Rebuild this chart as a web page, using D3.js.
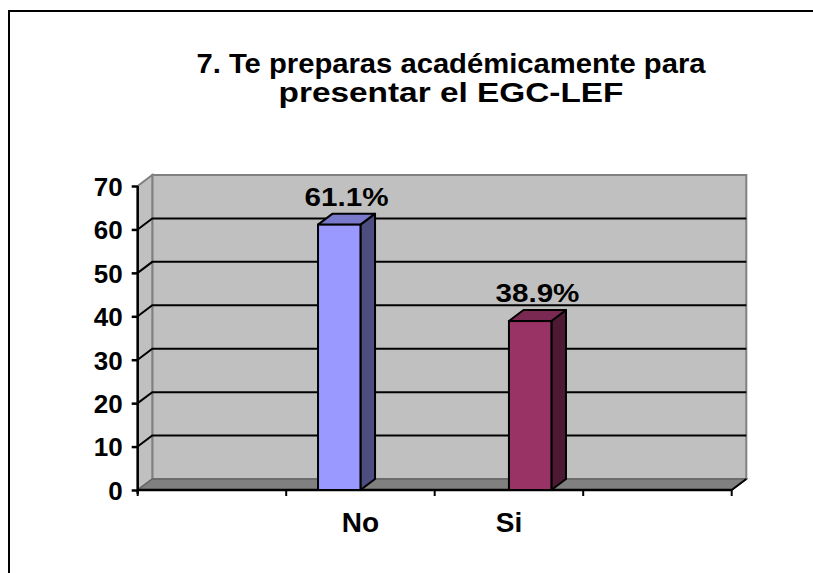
<!DOCTYPE html>
<html>
<head>
<meta charset="utf-8">
<script src="https://cdn.jsdelivr.net/npm/d3@7"></script>
<style>
  body { margin: 0; background: #fff; }
  svg { display: block; font-family: "Liberation Sans", Arial, sans-serif; font-weight: bold; }
</style>
</head>
<body>
<svg width="813" height="573"></svg>
<script>
const titleLines = ["7. Te preparas académicamente para", "presentar el EGC-LEF"];
const categories = ["", "No", "Si", ""];
const seriesNames = ["No", "Si"];
const seriesValues = [
    [null, 61.1, null, null],
    [null, null, 38.9, null]
];
const seriesColors = [
    { front: "#9999ff", top: "#7a7acc", side: "#4d4d80" },
    { front: "#993366", top: "#7a2952", side: "#4d1a33" }
];
const yTicks = [0, 10, 20, 30, 40, 50, 60, 70];

const svg = d3.select("svg"),
    width = +svg.attr("width"),
    height = +svg.attr("height");

// frame round the chart area (runs off the right and bottom)
svg.append("rect")
    .attr("x", 9).attr("y", 11)
    .attr("width", 900).attr("height", 700)
    .attr("fill", "none").attr("stroke", "#000").attr("stroke-width", 2);

// title
const titleWidths = [509, 345];
svg.append("g").selectAll("text")
    .data(titleLines)
    .enter().append("text")
    .attr("x", 451)
    .attr("y", (d, i) => 73 + i * 29)
    .attr("text-anchor", "middle")
    .attr("font-size", 28)
    .attr("textLength", (d, i) => titleWidths[i])
    .attr("lengthAdjust", "spacingAndGlyphs")
    .attr("fill", "#000")
    .text(d => d);

// plot geometry
const plotLeft = 137.7, plotRight = 731.7, plotBottom = 490, plotTop = 186;
const dx = 14.6, dy = 11;   // depth offset of the back wall

const y = d3.scaleLinear().domain([0, 70]).range([plotBottom, plotTop]);
const x = d3.scaleBand().domain(d3.range(categories.length)).range([plotLeft, plotRight]);
const xs = d3.scaleBand().domain(seriesNames).range([0, x.bandwidth()])
    .paddingInner(0).paddingOuter(0.75);

// back wall
svg.append("rect")
    .attr("x", plotLeft + dx).attr("y", y(70) - dy)
    .attr("width", plotRight - plotLeft).attr("height", y(0) - y(70))
    .attr("fill", "#c0c0c0").attr("stroke", "#808080").attr("stroke-width", 2);

// left side wall
svg.append("path")
    .attr("d", `M${plotLeft},${y(0)} L${plotLeft},${y(70)} L${plotLeft + dx},${y(70) - dy} L${plotLeft + dx},${y(0) - dy} Z`)
    .attr("fill", "#c0c0c0").attr("stroke", "#808080").attr("stroke-width", 2);

// floor
svg.append("path")
    .attr("d", `M${plotLeft},${y(0)} L${plotRight},${y(0)} L${plotRight + dx},${y(0) - dy} L${plotLeft + dx},${y(0) - dy} Z`)
    .attr("fill", "#808080").attr("stroke", "#666").attr("stroke-width", 1.5);
svg.append("line")
    .attr("x1", plotRight).attr("y1", y(0)).attr("x2", plotRight + dx).attr("y2", y(0) - dy)
    .attr("stroke", "#000").attr("stroke-width", 2);

// gridlines on back wall and side wall
const grid = yTicks.filter(v => v > 0 && v < 70);
svg.append("g").selectAll("path")
    .data(grid)
    .enter().append("path")
    .attr("d", v => `M${plotLeft},${y(v)} L${plotLeft + dx},${y(v) - dy} L${plotRight + dx},${y(v) - dy}`)
    .attr("fill", "none").attr("stroke", "#000").attr("stroke-width", 2);

// y axis
const yAxis = svg.append("g")
    .attr("transform", `translate(${plotLeft},0)`)
    .call(d3.axisLeft(y).tickValues(yTicks).tickSize(6).tickPadding(9));
yAxis.select(".domain").attr("stroke-width", 2.5).attr("d", `M0,${y(70)}V${y(0) + 4}`);
yAxis.selectAll(".tick line").attr("stroke-width", 2.5);
yAxis.selectAll(".tick text")
    .attr("font-size", 26).attr("font-family", "Liberation Sans, Arial, sans-serif")
    .attr("font-weight", "bold").attr("dy", "0.36em").attr("fill", "#000");

// x axis
const xAxis = svg.append("g")
    .attr("transform", `translate(0,${plotBottom})`);
xAxis.append("line")
    .attr("x1", plotLeft).attr("x2", plotRight)
    .attr("stroke", "#000").attr("stroke-width", 2.5);
xAxis.selectAll("line.tk")
    .data(d3.range(categories.length + 1))
    .enter().append("line").attr("class", "tk")
    .attr("x1", i => i < categories.length ? x(i) : plotRight)
    .attr("x2", i => i < categories.length ? x(i) : plotRight)
    .attr("y1", 0).attr("y2", 6)
    .attr("stroke", "#000").attr("stroke-width", 2);
xAxis.selectAll("text")
    .data(categories)
    .enter().append("text")
    .attr("x", (d, i) => x(i) + x.bandwidth() / 2)
    .attr("y", 42)
    .attr("text-anchor", "middle")
    .attr("font-size", 28)
    .attr("fill", "#000")
    .text(d => d);

// 3D bars
const bars = [];
seriesValues.forEach((vals, s) => {
    vals.forEach((v, i) => {
        if (v != null) bars.push({ s, i, v });
    });
});

const barG = svg.append("g").selectAll("g")
    .data(bars)
    .enter().append("g");

barG.each(function (d) {
    const g = d3.select(this);
    const c = seriesColors[d.s];
    const x0 = x(d.i) + xs(seriesNames[d.s]);
    const x1 = x0 + xs.bandwidth();
    const yt = y(d.v), yb = y(0);
    // side
    g.append("path")
        .attr("d", `M${x1},${yb} L${x1 + dx},${yb - dy} L${x1 + dx},${yt - dy} L${x1},${yt} Z`)
        .attr("fill", c.side).attr("stroke", "#000").attr("stroke-width", 2).attr("stroke-linejoin", "round");
    // top
    g.append("path")
        .attr("d", `M${x0},${yt} L${x0 + dx},${yt - dy} L${x1 + dx},${yt - dy} L${x1},${yt} Z`)
        .attr("fill", c.top).attr("stroke", "#000").attr("stroke-width", 2).attr("stroke-linejoin", "round");
    // front
    g.append("rect")
        .attr("x", x0).attr("y", yt)
        .attr("width", x1 - x0).attr("height", yb - yt)
        .attr("fill", c.front).attr("stroke", "#000").attr("stroke-width", 2);
    // value label
    g.append("text")
        .attr("x", (x0 + x1 + dx) / 2)
        .attr("y", yt - dy - 8)
        .attr("text-anchor", "middle")
        .attr("font-size", 25)
        .attr("textLength", 84)
        .attr("lengthAdjust", "spacingAndGlyphs")
        .attr("fill", "#000")
        .text(d.v.toFixed(1) + "%");
});
</script>
</body>
</html>
